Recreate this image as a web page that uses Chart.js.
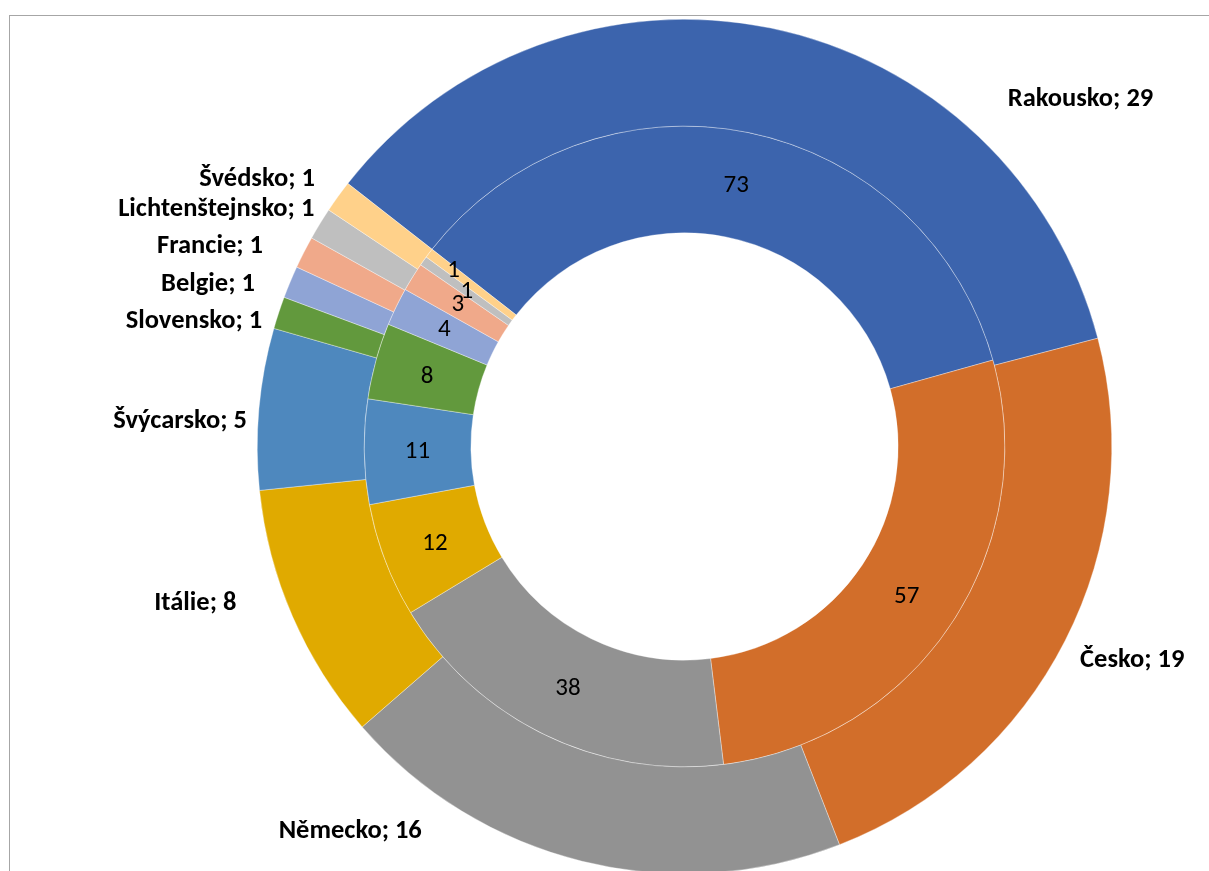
<!DOCTYPE html>
<html>
<head>
<meta charset="utf-8">
<script src="https://cdn.jsdelivr.net/npm/chart.js@4.4.1/dist/chart.umd.min.js"></script>
<style>
  html, body { margin: 0; padding: 0; background: #fff; overflow: hidden; }
  #frame {
    position: absolute; left: 9px; top: 15px; width: 1400px; height: 1000px;
    border: 1px solid #a6a6a6; box-sizing: border-box;
  }
  #chart { position: absolute; left: 0; top: 0; }
</style>
</head>
<body>
<div id="frame"></div>
<canvas id="chart" width="1209" height="893"></canvas>
<script>
// outer ring: countries
const countries = ['Rakousko', 'Česko', 'Německo', 'Itálie', 'Švýcarsko',
  'Slovensko', 'Belgie', 'Francie', 'Lichtenštejnsko', 'Švédsko'];
const outerValues = [29, 19, 16, 8, 5, 1, 1, 1, 1, 1];
// inner ring
const innerValues = [73, 57, 38, 12, 11, 8, 4, 3, 1, 1];

const sliceColors = ['#3c64ad', '#d26e2a', '#929292', '#e0aa00', '#4e88be',
  '#62993d', '#8fa4d5', '#f0a98a', '#bfbfbf', '#ffd18a'];

// label nudges (px) from the default anchor just outside / mid-ring
const outerNudge = [[235, 88], [6, 22], [-158, -33], [-47, -11], [-2, 20],
  [-7, 18], [-26, 13], [-32, 5], [3, -3], [-15, -5]];
const innerNudge = [[0, 1], [0, 2], [0, 2], [0, 2], [0, 1],
  [0, 2], [0, 0], [0, 0], [0, 0], [-18, -15]];

const FONT = 'Carlito, Calibri, Lato, sans-serif';

const ringLabels = {
  id: 'ringLabels',
  afterDatasetsDraw(chart) {
    const ctx = chart.ctx;
    ctx.save();
    ctx.fillStyle = '#000';

    // outer ring: "Name; value", bold, outside the ring
    const outer = chart.getDatasetMeta(0);
    ctx.font = 'bold 26.5px ' + FONT;
    ctx.textBaseline = 'alphabetic';
    outer.data.forEach((arc, i) => {
      const p = arc.getProps(['x', 'y', 'startAngle', 'endAngle', 'outerRadius'], true);
      const mid = (p.startAngle + p.endAngle) / 2;
      const r = p.outerRadius + 10;
      const x = p.x + Math.cos(mid) * r + outerNudge[i][0];
      const y = p.y + Math.sin(mid) * r + outerNudge[i][1];
      ctx.textAlign = Math.cos(mid) < 0 ? 'right' : 'left';
      ctx.fillText(countries[i] + '; ' + outerValues[i], x, y);
    });

    // inner ring: plain numbers centred in the ring
    const inner = chart.getDatasetMeta(1);
    ctx.font = '25px ' + FONT;
    ctx.textAlign = 'center';
    ctx.textBaseline = 'middle';
    inner.data.forEach((arc, i) => {
      const p = arc.getProps(['x', 'y', 'startAngle', 'endAngle', 'innerRadius', 'outerRadius'], true);
      const mid = (p.startAngle + p.endAngle) / 2;
      const r = (p.innerRadius + p.outerRadius) / 2;
      const x = p.x + Math.cos(mid) * r + innerNudge[i][0];
      const y = p.y + Math.sin(mid) * r + innerNudge[i][1];
      ctx.fillText(String(innerValues[i]), x, y);
    });
    ctx.restore();
  }
};

new Chart(document.getElementById('chart'), {
  type: 'doughnut',
  data: {
    labels: countries,
    datasets: [
      { data: outerValues, backgroundColor: sliceColors, borderColor: 'rgba(255,255,255,0.7)', borderWidth: 0.5 },
      { data: innerValues, backgroundColor: sliceColors, borderColor: 'rgba(255,255,255,0.7)', borderWidth: 0.5 }
    ]
  },
  options: {
    responsive: false,
    maintainAspectRatio: false,
    animation: false,
    rotation: -52,
    cutout: '50%',
    layout: { padding: { left: 257, right: 97, top: 19, bottom: 19 } },
    plugins: {
      legend: { display: false },
      tooltip: { enabled: false }
    }
  },
  plugins: [ringLabels]
});
</script>
</body>
</html>
